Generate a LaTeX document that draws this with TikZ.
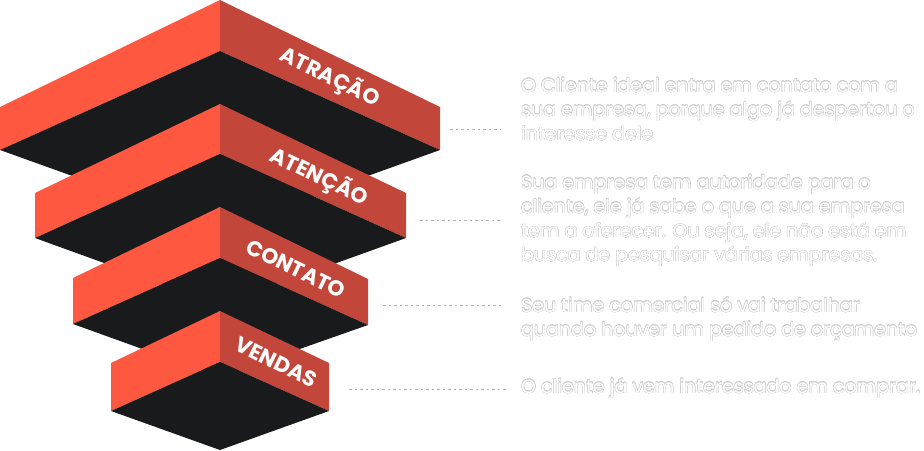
\documentclass[tikz,border=0pt]{standalone}
\usepackage{fontspec}
\setmainfont{Poppins}
\usepackage[copies]{contour}
\contourlength{0.38pt}
\definecolor{fore}{HTML}{FF5841}
\definecolor{side}{HTML}{C3463B}
\definecolor{base}{HTML}{181A1C}
\definecolor{olc}{HTML}{CFCFCF}
\definecolor{dotc}{HTML}{AFAFAF}
\newcommand\oltext[1]{\hbox{\contour{olc}{#1}}}
\newcommand\paralines[1]{\vtop{\baselineskip=24.2pt\lineskiplimit=-10pt #1}}
\tikzset{
  lbl/.style={text=white, inner sep=0pt, rotate=-25.8, font=\bfseries\fontsize{21.5}{21.5}\selectfont},
  para/.style={text=white, inner sep=0pt, anchor=base west, font=\fontsize{19}{24.2}\selectfont},
  dotl/.style={draw=dotc, line width=1pt, dash pattern=on 2.5pt off 3pt}
}
\begin{document}
\begin{tikzpicture}[x=1pt,y=-1pt]
\useasboundingbox (0,0) rectangle (924,450);
% block 1
\fill[fore] (220,0) -- (0,107) -- (0,150) -- (220,51) -- cycle;
\fill[side] (220,0) -- (440,107) -- (440,150) -- (220,51) -- cycle;
\fill[base] (220,51) -- (0,150) -- (220,229) -- (440,150) -- cycle;
% block 2
\fill[fore] (220,104) -- (35,193) -- (35,238) -- (220,154) -- cycle;
\fill[side] (220,104) -- (406,193) -- (406,238) -- (220,154) -- cycle;
\fill[base] (220,154) -- (35,238) -- (220,305) -- (406,238) -- cycle;
% block 3
\fill[fore] (220,207) -- (73,278) -- (73,324) -- (220,258) -- cycle;
\fill[side] (220,207) -- (368,279) -- (368,325) -- (220,258) -- cycle;
\fill[base] (220,258) -- (73,324) -- (220,377) -- (368,325) -- cycle;
% block 4
\fill[fore] (220,311) -- (111,363) -- (111,411) -- (220,362) -- cycle;
\fill[side] (220,311) -- (329,363) -- (329,411) -- (220,362) -- cycle;
\fill[base] (220,362) -- (111,411) -- (220,450) -- (329,411) -- cycle;
% labels
\node[lbl] (l1) at (330,77) {ATRAÇÃO};
\node[lbl] (l2) at (319,177) {ATENÇÃO};
\node[lbl] (l3) at (296,269) {CONTATO};
\node[lbl] (l4) at (276,362) {VENDAS};
% texts
\node[para] (t1) at (521,92) {\paralines{\oltext{O Cliente ideal entra em contato com a}\oltext{sua empresa, porque algo já despertou o}\oltext{interesse dele}}};
\node[para] (t2) at (521,189) {\paralines{\oltext{Sua empresa tem autoridade para o}\oltext{cliente, ele já sabe o que a sua empresa}\oltext{tem a oferecer. Ou seja, ele não está em}\oltext{busca de pesquisar várias empresas.}}};
\node[para] (t3) at (521,312) {\paralines{\oltext{Seu time comercial só vai trabalhar}\oltext{quando houver um pedido de orçamento}}};
\node[para] (t4) at (521,393) {\paralines{\oltext{O cliente já vem interessado em comprar.}}};
% dotted connectors
\coordinate (a1) at (450,129); \coordinate (b1) at (501,129);
\coordinate (a2) at (420,220); \coordinate (b2) at (501,220);
\coordinate (a3) at (383,305); \coordinate (b3) at (501,305);
\coordinate (a4) at (349,389); \coordinate (b4) at (506,389);
\draw[dotl] (a1) -- (b1);
\draw[dotl] (a2) -- (b2);
\draw[dotl] (a3) -- (b3);
\draw[dotl] (a4) -- (b4);
\end{tikzpicture}
\end{document}
